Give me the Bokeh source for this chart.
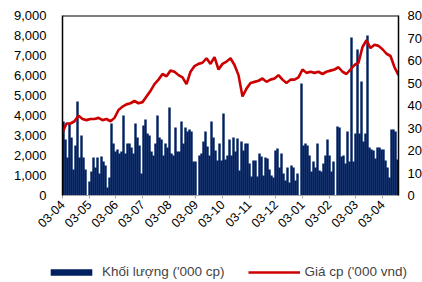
import numpy as np
from bokeh.plotting import figure
from bokeh.layouts import column
from bokeh.models import (Range1d, LinearAxis, Legend, LegendItem, FixedTicker,
                          NumeralTickFormatter, Span)
from bokeh.embed import file_html
from bokeh.resources import INLINE

# Month tick labels (day-month), from 03-04 to the following 03-04
month_labels = ["03-04", "03-05", "03-06", "03-07", "03-08", "03-09", "03-10",
                "03-11", "03-12", "03-01", "03-02", "03-03", "03-04"]
span_months = 12.6  # data runs a bit past the last tick

# Trading volume ('000 shares), evenly spaced samples across the period
volume = [3700, 2800, 1900, 3600, 2900, 1300, 2500, 4700, 1900, 3000,
          1900, 1300, 0, 700, 1200, 1900, 1400, 1900, 1100, 1950,
          1700, 1500, 400, 900, 3600, 2600, 2200, 2300, 2100, 2200,
          4000, 2100, 2600, 2600, 2400, 2100, 3600, 2900, 2500, 1100,
          3500, 3800, 3100, 3000, 2200, 2000, 2600, 4000, 2900, 2800,
          2000, 2600, 2400, 4400, 2100, 2000, 3400, 2200, 2200, 3700,
          2600, 3400, 3200, 3300, 3200, 1700, 1700, 0, 2000, 2100,
          2700, 3200, 2450, 2000, 3700, 2900, 2250, 1750, 2600, 1750,
          4100, 1800, 2000, 2800, 2000, 2900, 2200, 2850, 1250, 2700,
          2250, 2600, 2600, 1600, 950, 1750, 1750, 950, 2100, 1950,
          1000, 1900, 1850, 1300, 1000, 900, 2250, 2350, 1400, 2100,
          1100, 750, 1400, 650, 1500, 1400, 750, 1100, 0, 5600,
          2500, 2600, 2500, 2000, 1200, 1700, 1400, 2600, 1250, 1200,
          1600, 2000, 2800, 2000, 1200, 1700, 0, 3450, 3400, 1950,
          2000, 1600, 3200, 1700, 7900, 1700, 3100, 7300, 3100, 5700,
          2700, 3100, 8000, 2400, 2300, 2250, 1850, 2400, 2400, 2300,
          2300, 1750, 1400, 900, 3300, 3300, 3200, 1800]

# Share price ('000 VND), evenly spaced samples across the period
price = [28, 32, 32, 33, 35.5, 34, 33.5, 34, 34, 34.5,
         33.5, 34, 33, 34.5, 38, 39.5, 40.5, 41, 42, 41,
         41.5, 44, 46.5, 49.5, 51.5, 54, 53, 55.5, 55, 53.5,
         52.5, 49.5, 55, 57.5, 58.5, 59, 61, 58.5, 61.5, 56,
         58.5, 59.5, 61, 58, 53.5, 44, 47.5, 50, 50.5, 51,
         52, 50.5, 51.5, 52, 53.5, 51.5, 50, 51.5, 51.5, 52.5,
         56, 54.5, 55, 54.5, 55, 54, 55, 55.5, 56, 57,
         55, 54, 56, 58, 59, 66, 69, 65.5, 67, 66.5,
         65, 63, 62, 57, 53.5]

vol_step = span_months / len(volume)
vol_x = (np.arange(len(volume)) + 0.5) * vol_step
price_x = np.linspace(0, span_months, len(price))

NAVY = "#002060"
RED = "#CC0000"
FONT = "Liberation Sans"

p = figure(frame_width=336, frame_height=180, output_backend="svg",
           toolbar_location=None, x_range=Range1d(0, span_months),
           y_range=Range1d(0, 9000), min_border_left=62, min_border_right=24,
           min_border_top=15, min_border_bottom=63)
p.extra_y_ranges = {"price": Range1d(0, 80)}
p.outline_line_color = None
p.background_fill_color = "white"
p.border_fill_color = "white"
p.xgrid.visible = False
p.ygrid.visible = False

bars = p.vbar(x=vol_x, top=volume, width=vol_step * 1.2, fill_color=NAVY,
              line_color=None)
line = p.line(x=price_x, y=price, y_range_name="price", line_color=RED,
              line_width=2.6)

# top border
p.add_layout(Span(location=9000, dimension="width", line_color="black",
                  line_width=1.8))

# left axis
ya = p.yaxis[0]
ya.ticker = FixedTicker(ticks=list(range(0, 9001, 1000)))
ya.formatter = NumeralTickFormatter(format="0,0")
ya.axis_line_color = "black"
ya.axis_line_width = 1.5
ya.major_tick_line_color = None
ya.minor_tick_line_color = None
ya.major_label_standoff = 10
ya.major_label_text_font = FONT
ya.major_label_text_font_size = "13px"
ya.major_label_text_color = "#000000"

# right axis
ra = LinearAxis(y_range_name="price", ticker=FixedTicker(ticks=list(range(0, 81, 10))))
ra.axis_line_color = "black"
ra.axis_line_width = 1.5
ra.major_tick_line_color = None
ra.minor_tick_line_color = None
ra.major_label_standoff = 3
ra.major_label_text_font = FONT
ra.major_label_text_font_size = "13px"
ra.major_label_text_color = "#000000"
p.add_layout(ra, "right")

# bottom axis
xa = p.xaxis[0]
xa.ticker = FixedTicker(ticks=list(range(len(month_labels))))
xa.major_label_overrides = {i: lab for i, lab in enumerate(month_labels)}
xa.major_label_orientation = np.pi / 4
xa.axis_line_color = "#a6a6a6"
xa.major_tick_line_color = "#a6a6a6"
xa.major_tick_in = 0
xa.major_tick_out = 3
xa.minor_tick_line_color = None
xa.major_label_standoff = 4
xa.major_label_text_font = FONT
xa.major_label_text_font_size = "12.5px"
xa.major_label_text_color = "#000000"

# legend strip below the chart (legend-only proxies kept outside its range)
lg = figure(frame_width=422, frame_height=24, output_backend="svg",
            toolbar_location=None, x_range=Range1d(0, 1), y_range=Range1d(0, 1),
            min_border_left=0, min_border_right=0, min_border_top=0,
            min_border_bottom=0)
lg.axis.visible = False
lg.grid.visible = False
lg.outline_line_color = None
lg_bar = lg.vbar(x=[-5], top=[-5], width=1, fill_color=NAVY, line_color=None)
lg_line = lg.line(x=[-6, -5], y=[-5, -5], line_color=RED, line_width=2.4)

legend = Legend(items=[LegendItem(label="Khối lượng ('000 cp)", renderers=[lg_bar]),
                       LegendItem(label="Giá cp ('000 vnd)", renderers=[lg_line])],
                orientation="horizontal", location=(45, 3),
                glyph_width=52, glyph_height=8, label_standoff=5, spacing=23,
                padding=0, margin=0, border_line_color=None,
                background_fill_alpha=0,
                label_text_font=FONT, label_text_font_size="13.5px")
lg.add_layout(legend, "center")

layout = column(p, lg, spacing=0)
open("out.html", "w").write(file_html(layout, INLINE))
